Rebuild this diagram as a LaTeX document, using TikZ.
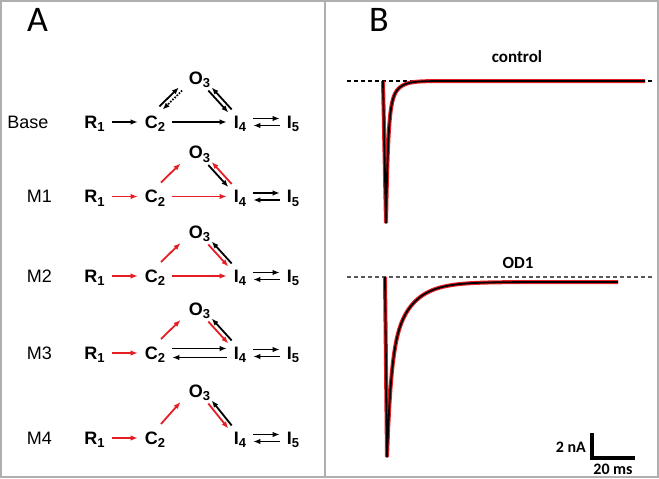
\documentclass[tikz,border=0pt]{standalone}
\usepackage{fontspec}
\setmainfont{Liberation Sans}
\newfontfamily\calfont{Carlito}
\usetikzlibrary{arrows.meta}
\definecolor{schemered}{RGB}{228,30,36}
\definecolor{framegray}{RGB}{175,175,175}
\newcommand\lowsub[1]{\raisebox{-3.5pt}{\fontsize{13}{13}\selectfont#1}}
\tikzset{
  chstate/.style={font=\fontsize{18}{20}\selectfont\bfseries, inner xsep=7pt, inner ysep=0pt, text depth=0pt},
  rowlabel/.style={font=\fontsize{18}{20}\selectfont, inner sep=0pt},
  rate/.style={-{Latex[length=7pt,width=5.5pt]}, line width=1.8pt},
  panel/.style={font=\calfont\fontsize{36}{40}\selectfont, inner sep=0pt},
  tracelabel/.style={font=\calfont\bfseries\fontsize{17}{19}\selectfont, inner sep=0pt},
  scalelabel/.style={font=\calfont\bfseries\fontsize{16}{18}\selectfont, inner sep=0pt},
  zeroline/.style={dash pattern=on 4pt off 3pt, line width=1.1pt},
  trace/.style={black, line width=1.8pt, line join=round, preaction={draw=schemered, line width=4pt}},
}
\begin{document}
\begin{tikzpicture}[x=1pt, y=-1pt]
  \useasboundingbox (0,0) rectangle (659,479);
  \draw[framegray, line width=1.5pt] (1,1) rectangle (658,477);
  \draw[framegray, line width=1.5pt] (325,1) -- (325,477);

  % A: kinetic schemes
  \node[panel] (A) at (37.5,19.5) {A};
  \foreach \k/\lab/\lx/\y/\dy/\col in {a/Base/28/122/44/black, b/M1/39.5/196.5/44/schemered,
      c/M2/39.5/276/44/schemered, d/M3/39.5/353/44/schemered, e/M4/39.5/438/47/schemered} {
    \node[rowlabel] (lab\k) at (\lx,\y) {\lab};
    \node[chstate] (R\k) at (94.5,\y) {R\lowsub{1}};
    \node[chstate] (C\k) at (155,\y) {C\lowsub{2}};
    \node[chstate] (O\k) at (199.5,{\y-\dy}) {O\lowsub{3}};
    \node[chstate] (I\k) at (240,\y) {I\lowsub{4}};
    \node[chstate] (J\k) at (293,\y) {I\lowsub{5}};
    \draw[rate, color=\col] (R\k) -- (C\k);
    \draw[rate] ([yshift=3.5pt]I\k.east) -- ([yshift=3.5pt]J\k.west);
    \draw[rate] ([yshift=-3.5pt]J\k.west) -- ([yshift=-3.5pt]I\k.east);
  }

  % Base
  \draw[rate] ([shift={(4.4,-15.6)}]Ca.center) -- ([shift={(-20.6,9.4)}]Oa.center);
  \draw[rate, dash pattern=on 1.5pt off 1.5pt] ([shift={(-17.4,12.6)}]Oa.center) -- ([shift={(7.6,-12.4)}]Ca.center);
  \draw[rate] (Ca) -- (Ia);
  \draw[rate] ([shift={(8.8,12.5)}]Oa.center) -- ([shift={(-11.7,-9.5)}]Ia.center);
  \draw[rate] ([shift={(-8.3,-12.5)}]Ia.center) -- ([shift={(12.2,9.5)}]Oa.center);

  % M1
  \draw[rate, schemered] ([shift={(6,-14)}]Cb.center) -- ([shift={(-19,11)}]Ob.center);
  \draw[rate, schemered] (Cb) -- (Ib);
  \draw[rate] ([shift={(8.8,12.5)}]Ob.center) -- ([shift={(-11.7,-9.5)}]Ib.center);
  \draw[rate, schemered] ([shift={(-8.3,-12.5)}]Ib.center) -- ([shift={(12.2,9.5)}]Ob.center);

  % M2
  \draw[rate, schemered] ([shift={(6,-14)}]Cc.center) -- ([shift={(-19,11)}]Oc.center);
  \draw[rate, schemered] (Cc) -- (Ic);
  \draw[rate, schemered] ([shift={(8.8,12.5)}]Oc.center) -- ([shift={(-11.7,-9.5)}]Ic.center);
  \draw[rate] ([shift={(-8.3,-12.5)}]Ic.center) -- ([shift={(12.2,9.5)}]Oc.center);

  % M3
  \draw[rate, schemered] ([shift={(6,-14)}]Cd.center) -- ([shift={(-19,11)}]Od.center);
  \draw[rate] ([yshift=4.5pt]Cd.east) -- ([yshift=4.5pt]Id.west);
  \draw[rate] ([yshift=-4.5pt]Id.west) -- ([yshift=-4.5pt]Cd.east);
  \draw[rate, schemered] ([shift={(8.8,12.5)}]Od.center) -- ([shift={(-11.7,-9.5)}]Id.center);
  \draw[rate] ([shift={(-8.3,-12.5)}]Id.center) -- ([shift={(12.2,9.5)}]Od.center);

  % M4
  \draw[rate, schemered] ([shift={(6,-14)}]Ce.center) -- ([shift={(-19,11)}]Oe.center);
  \draw[rate, schemered] ([shift={(8.8,12.5)}]Oe.center) -- ([shift={(-11.7,-9.5)}]Ie.center);
  \draw[rate] ([shift={(-8.3,-12.5)}]Ie.center) -- ([shift={(12.2,9.5)}]Oe.center);

  % B: currents
  \node[panel] (B) at (379,20) {B};
  \node[tracelabel] (ctl) at (517,57) {control};
  \node[tracelabel] (od) at (518,263) {OD1};
  \coordinate (ctlzl) at (347,81);
  \coordinate (ctlzr) at (652,81);
  \draw[zeroline] (ctlzl) -- (ctlzr);
  \draw[trace] (383,81) -- (386,223)
    -- plot[domain=0:60, samples=100] ({386+\x},{81+142*(0.75*exp(-\x/2)+0.25*exp(-\x/8))})
    -- (645,81);
  \coordinate (odzl) at (347,277);
  \coordinate (odzr) at (652,277);
  \draw[zeroline, black!65] (odzl) -- (odzr);
  \draw[trace] (385,277) -- (387,457)
    -- plot[domain=0:140, samples=120] ({387+\x},{282+175*(0.55*exp(-\x/4)+0.45*exp(-\x/20))})
    -- (618,282);

  % scale bar
  \coordinate (sbtop) at (592,433);
  \coordinate (sbcorner) at (592,458);
  \coordinate (sbend) at (635,458);
  \draw[line width=3.2pt] (sbtop) -- (sbcorner) -- (sbend);
  \node[scalelabel, anchor=east] (sbi) at (586,447) {2 nA};
  \node[scalelabel] (sbt) at (613,469) {20 ms};
\end{tikzpicture}
\end{document}
